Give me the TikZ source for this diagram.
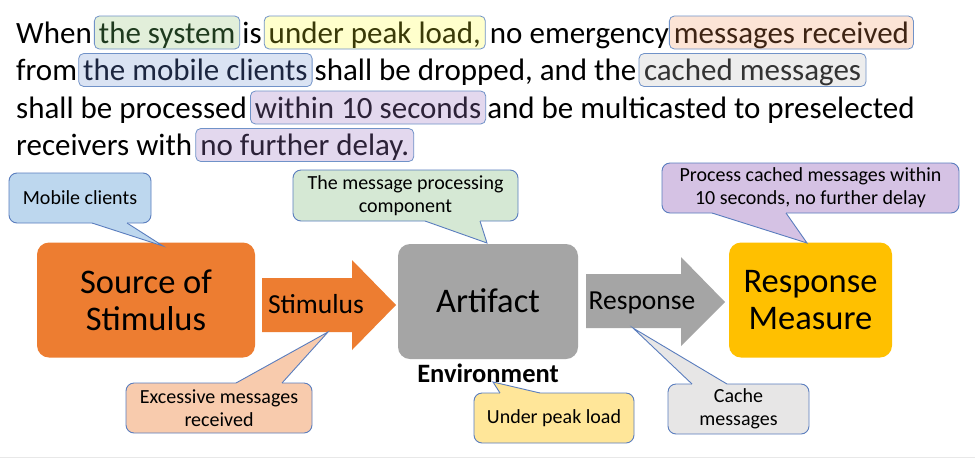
\documentclass[tikz,border=0pt]{standalone}
\usepackage{fontspec}
\setmainfont{Carlito}
\definecolor{hlborder}{HTML}{7092C8}
\definecolor{hlgreen}{HTML}{E2EFDA}
\definecolor{hlyellow}{HTML}{FFFFCC}
\definecolor{hlorange}{HTML}{FCE4D6}
\definecolor{hlblue}{HTML}{DAE3F3}
\definecolor{hlgrey}{HTML}{EDEDED}
\definecolor{hlpurple}{HTML}{E3D8EE}
\definecolor{tgreen}{HTML}{1E3A1E}
\definecolor{tyellow}{HTML}{3A3A08}
\definecolor{torange}{HTML}{3E2414}
\definecolor{tblue}{HTML}{1C2640}
\definecolor{tgrey}{HTML}{333333}
\definecolor{tpurple}{HTML}{2C2238}
\definecolor{cborder}{HTML}{5A7DBE}
\definecolor{cblue}{HTML}{BDD7EE}
\definecolor{cgreen}{HTML}{D5E8D4}
\definecolor{cpurple}{HTML}{D5C2E4}
\definecolor{cpeach}{HTML}{F8CBAD}
\definecolor{cyellow}{HTML}{FFE699}
\definecolor{cgrey}{HTML}{E7E6E6}
\definecolor{morange}{HTML}{ED7D31}
\definecolor{mgrey}{HTML}{A5A5A5}
\definecolor{mgold}{HTML}{FFC000}
\newcommand\callptr[5]{%
  \fill[#1] ([yshift=#5]#2) -- (#2) -- (#3) -- (#4) -- ([yshift=#5]#4) -- cycle;
  \draw[cborder, line width=0.9pt, line join=miter] (#2) -- (#3) -- (#4);}
\begin{document}
\begin{tikzpicture}[x=1pt,y=-1pt,
  txt/.style={inner sep=0pt, anchor=base west, font=\fontsize{31}{36}\selectfont},
  hl/.style={draw=hlborder, line width=0.8pt, rounded corners=5pt, inner xsep=4.5pt,
    inner ysep=2pt, text height=25pt, text depth=4pt, anchor=base west,
    font=\fontsize{31}{36}\selectfont},
  mainbox/.style={rounded corners=12pt, inner sep=0pt, align=center,
    font=\fontsize{34.5}{37}\selectfont},
  arrowlabel/.style={inner sep=0pt, anchor=base, font=\fontsize{27.5}{30}\selectfont},
  callout/.style={draw=cborder, line width=0.9pt, rounded corners=8pt, inner sep=0pt,
    align=center, font=\fontsize{20}{23}\selectfont},
]
\useasboundingbox (0,0) rectangle (975,459);
\fill[white] (0,0) rectangle (975,459);
\draw[black!9, line width=1.5pt] (0,457.5) -- (975,457.5);

% ---- paragraph ----
\node[txt] (l1a) at (16,43) {When};
\node[hl, fill=hlgreen, text=tgreen] (h1) at ([xshift=2pt]l1a.base east) {the system};
\node[txt] (l1b) at ([xshift=2pt]h1.base east) {is};
\node[hl, fill=hlyellow, text=tyellow] (h2) at ([xshift=2pt]l1b.base east) {under peak load,};
\node[txt] (l1c) at ([xshift=4pt]h2.base east) {no emergency};
\node[hl, fill=hlorange, text=torange] (h3) at ([xshift=0pt]l1c.base east) {messages received};

\node[txt] (l2a) at (16,80.5) {from};
\node[hl, fill=hlblue, text=tblue] (h4) at ([xshift=1pt]l2a.base east) {the mobile clients};
\node[txt] (l2b) at ([xshift=2pt]h4.base east) {shall be dropped, and the};
\node[hl, fill=hlgrey, text=tgrey, inner xsep=5pt] (h5) at ([xshift=2pt]l2b.base east) {cached messages\hspace{15pt}};

\node[txt] (l3a) at (16,118) {shall be processed};
\node[hl, fill=hlpurple, text=tpurple] (h6) at ([xshift=3pt]l3a.base east) {within 10 seconds};
\node[txt] (l3b) at ([xshift=1pt]h6.base east) {and be multicasted to preselected};

\node[txt] (l4a) at (16,155.5) {receivers with};
\node[hl, fill=hlpurple, text=tpurple] (h7) at ([xshift=3pt]l4a.base east) {no further delay.};

% ---- main boxes ----
\node[mainbox, fill=morange, minimum width=218pt, minimum height=115pt] (src) at (146,300) {Source of\\Stimulus};
\node[mainbox, fill=mgrey, minimum width=180pt, minimum height=115pt] (art) at (488,301.5) {};
\node[inner sep=0pt, anchor=base, font=\fontsize{34.5}{37}\selectfont] (artl) at (488,312) {Artifact};
\node[mainbox, fill=mgold, minimum width=163pt, minimum height=115pt] (rm) at (810.5,300) {Response\\Measure};

% ---- block arrows ----
\fill[morange] (262,278) -- (352,278) -- (352,260) -- (396,305) -- (352,350) -- (352,332) -- (262,332) -- cycle;
\node[arrowlabel] (stim) at (316,313) {Stimulus};
\fill[mgrey] (586,274) -- (681,274) -- (681,257) -- (725,302) -- (681,346) -- (681,328) -- (586,328) -- cycle;
\node[arrowlabel] (resp) at (642,309) {Response};

\node[inner sep=0pt, anchor=base, font=\bfseries\fontsize{26.5}{30}\selectfont] (env) at (488,382) {Environment};

% ---- callouts ----
\node[callout, fill=cblue, minimum width=142pt, minimum height=50pt] (c1) at (80,198) {Mobile clients};
\coordinate (c1a) at (92,223); \coordinate (c1t) at (163,246); \coordinate (c1b) at (127,223);
\callptr{cblue}{c1a}{c1t}{c1b}{2pt}

\node[callout, fill=cgreen, minimum width=225pt, minimum height=51pt] (c2) at (405.5,195.5) {The message processing\\component};
\coordinate (c2a) at (425,221); \coordinate (c2t) at (487,243); \coordinate (c2b) at (480,221);
\callptr{cgreen}{c2a}{c2t}{c2b}{2pt}

\node[callout, fill=cpurple, minimum width=297pt, minimum height=50pt] (c3) at (810.5,188) {Process cached messages within\\10 seconds, no further delay};
\coordinate (c3a) at (712,213); \coordinate (c3t) at (807,243); \coordinate (c3b) at (786,213);
\callptr{cpurple}{c3a}{c3t}{c3b}{2pt}

\node[callout, fill=cpeach, minimum width=186pt, minimum height=50pt] (c4) at (219,408) {Excessive messages\\received};
\coordinate (c4a) at (236,383); \coordinate (c4t) at (328,332); \coordinate (c4b) at (282,383);
\callptr{cpeach}{c4a}{c4t}{c4b}{-2pt}

\node[callout, fill=cyellow, minimum width=160pt, minimum height=50pt] (c5) at (554,418) {Under peak load};
\coordinate (c5a) at (500,393); \coordinate (c5t) at (493,382); \coordinate (c5b) at (540,393);
\callptr{cyellow}{c5a}{c5t}{c5b}{-2pt}

\node[callout, fill=cgrey, minimum width=141pt, minimum height=50pt] (c6) at (738.5,409) {Cache\\messages};
\coordinate (c6a) at (692,384); \coordinate (c6t) at (633,328); \coordinate (c6b) at (727,384);
\callptr{cgrey}{c6a}{c6t}{c6b}{-2pt}
\end{tikzpicture}
\end{document}
